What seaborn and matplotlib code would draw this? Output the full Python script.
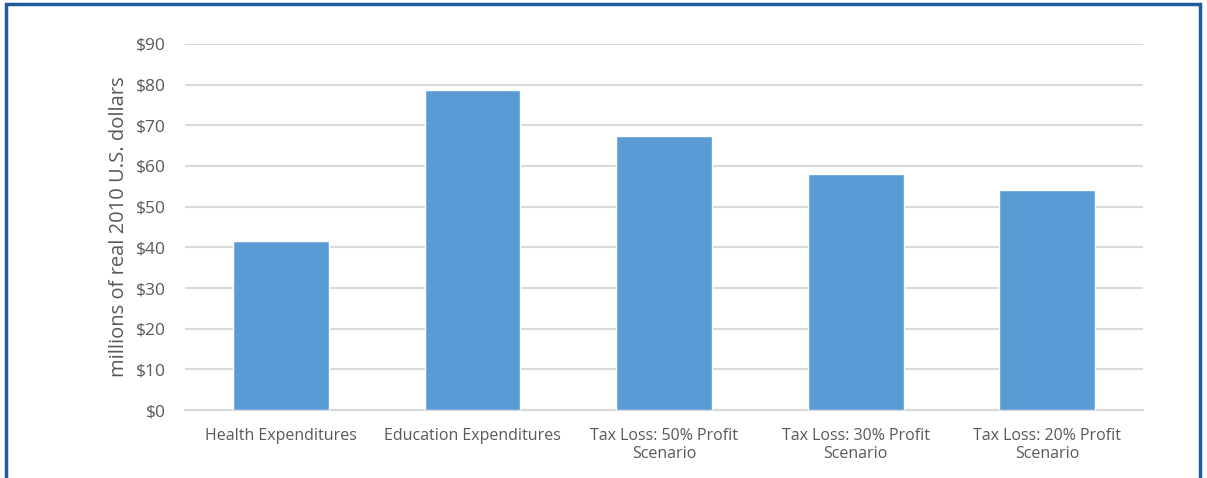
import matplotlib
matplotlib.use("Agg")
import matplotlib.pyplot as plt
import seaborn as sns
import pandas as pd
from matplotlib.patches import Rectangle

categories = ["Health Expenditures", "Education Expenditures",
              "Tax Loss: 50% Profit\nScenario", "Tax Loss: 30% Profit\nScenario",
              "Tax Loss: 20% Profit\nScenario"]
values = [41.6, 78.7, 67.4, 58.0, 54.1]
yticks = [0, 10, 20, 30, 40, 50, 60, 70, 80, 90]
ytick_labels = ["$0", "$10", "$20", "$30", "$40", "$50", "$60", "$70", "$80", "$90"]

sns.set_theme(style="white")
plt.rcParams['font.family'] = ['Open Sans', 'DejaVu Sans']

df = pd.DataFrame({"cat": categories, "val": values})

W, H = 1207, 478
fig = plt.figure(figsize=(W / 100, H / 100), dpi=100)
ax = fig.add_axes([185 / W, 1 - 410 / H, (1143 - 185) / W, (410 - 44) / H])

sns.barplot(data=df, x="cat", y="val", color="#5B9BD5", saturation=1, width=0.5,
            ax=ax, zorder=3)

ax.set_ylim(0, 90)
ax.set_yticks(yticks)
ax.set_yticklabels(ytick_labels)
ax.set_xlim(-0.5, len(categories) - 0.5)
ax.yaxis.grid(True, color="#D9D9D9", linewidth=1.5, zorder=0)
ax.set_axisbelow(True)
for s in ["top", "right", "left"]:
    ax.spines[s].set_visible(False)
ax.spines["bottom"].set_color("#D9D9D9")
ax.spines["bottom"].set_linewidth(1.5)
ax.tick_params(axis="y", length=0, pad=14, labelsize=12.5, labelcolor="#595959")
ax.tick_params(axis="x", length=0, pad=13, labelsize=11.5, labelcolor="#595959")
for lbl in ax.get_xticklabels():
    lbl.set_linespacing(1.15)
ax.set_xlabel("")
ax.set_ylabel("millions of real 2010 U.S. dollars", fontsize=14.5, color="#595959", labelpad=5)

# frame border
fig.patches.append(Rectangle((6 / W, -0.1), (1200 - 6) / W, 1.1 - 4.5 / H,
                             transform=fig.transFigure, fill=False,
                             edgecolor="#1F5C9E", linewidth=2.5))

fig.savefig("out.png", dpi=100)
